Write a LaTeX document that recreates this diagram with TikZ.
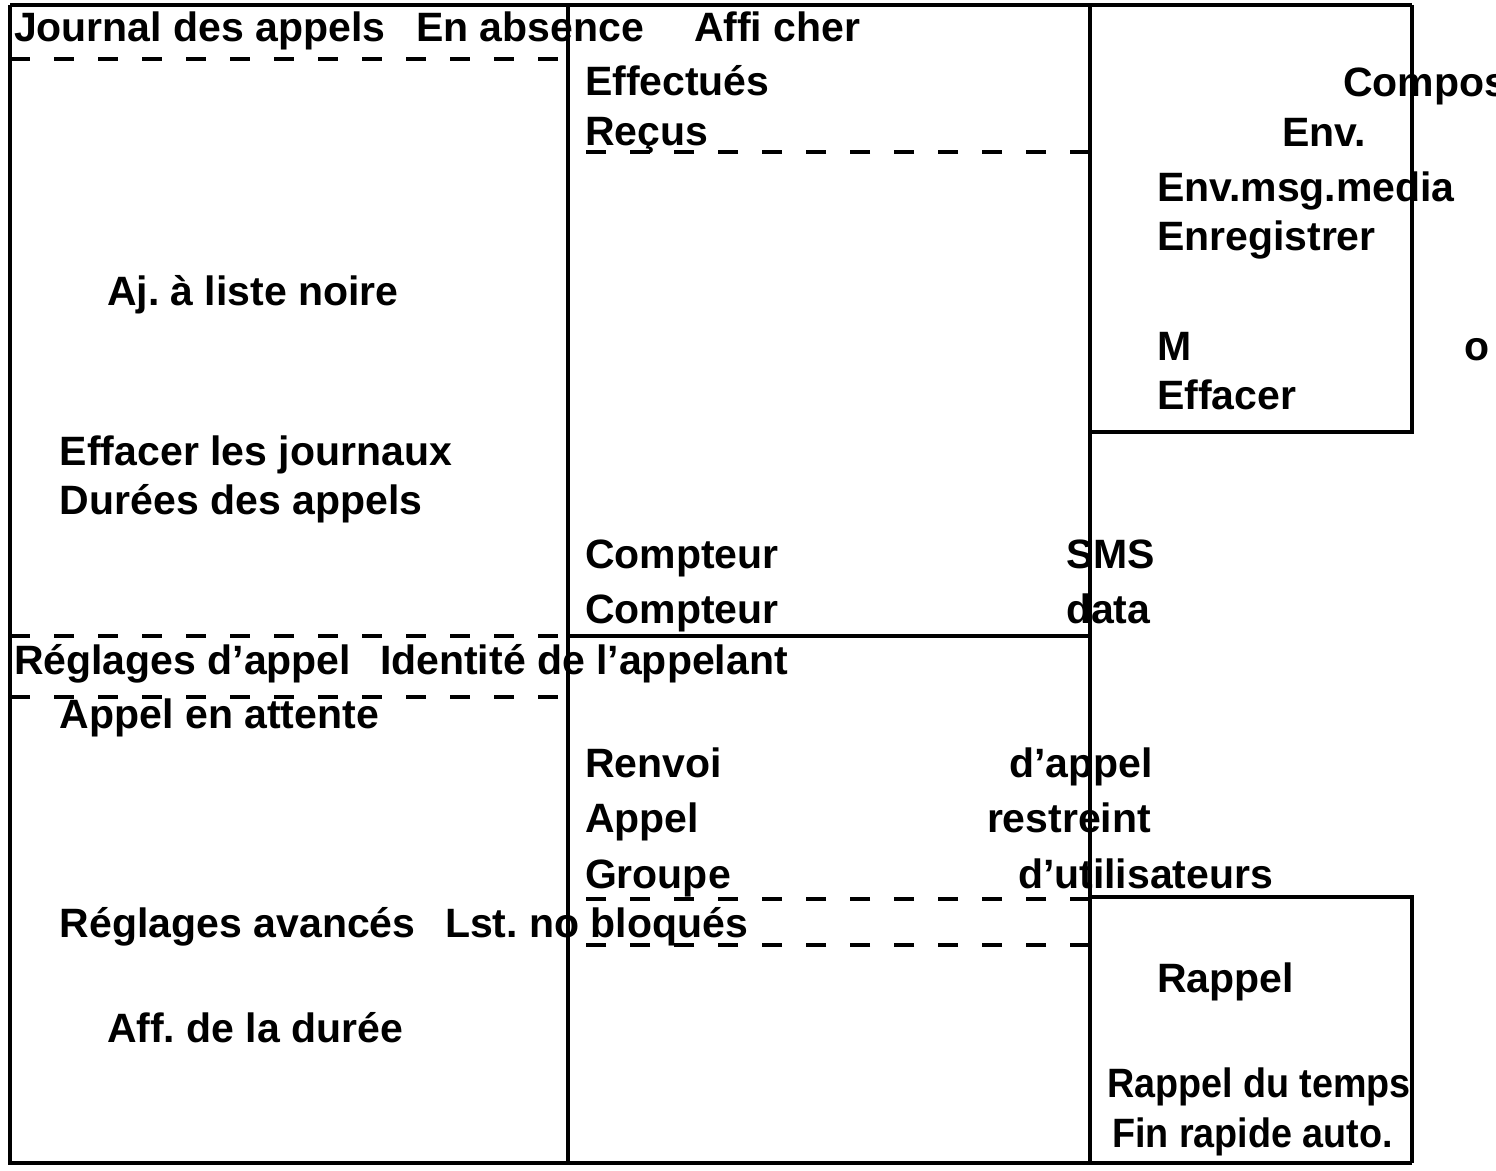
\documentclass[tikz,border=0pt]{standalone}
\usepackage{fontspec}
\usepackage{graphicx}
\setmainfont{Liberation Sans}
\frenchspacing
\tikzset{
  menu/.style={anchor=base west, inner sep=0pt, font=\fontsize{20.5pt}{24pt}\selectfont\bfseries},
  sep/.style={line width=2.2pt, dash pattern=on 10pt off 12pt},
}
\newcommand{\narrow}[1]{\scalebox{0.92}[1]{#1}}
\begin{document}
\begin{tikzpicture}[x=0.5pt, y=-0.5pt, line width=2pt]
\useasboundingbox (0,0) rectangle (1496,1171);

% frame and columns
\draw (10,5) -- (1412,5);
\draw (10,5) -- (10,1163) -- (1412,1163);
\draw (568,5) -- (568,1163);
\draw (1090,5) -- (1090,1163);
\draw (1412,5) -- (1412,432) -- (1090,432);
\draw (1090,897) -- (1412,897) -- (1412,1163);
\draw (568,636) -- (1090,636);

% dashed separators
\draw[sep] (10,59) -- (568,59);
\draw[sep] (1090,152) -- (568,152);
\draw[sep] (10,636) -- (568,636);
\draw[sep] (10,697) -- (568,697);
\draw[sep] (1090,899) -- (568,899);
\draw[sep] (1090,945) -- (568,945);

% journal des appels
\node[menu] (journal) at (12,42) {Journal des appels};
\node[menu] (absence) at (414,42) {En absence};
\node[menu] (afficher) at (692,42) {Affi cher};
\node[menu] (effectues) at (583,96) {Effectués};
\node[menu] (recus) at (583,146) {Reçus};
\node[menu] (listenoire) at (105,306) {Aj. à liste noire};
\node[menu] (effjournaux) at (58,466) {Effacer les journaux};
\node[menu] (durees) at (58,515) {Durées des appels};
\node[menu] (cptsms) at (583,569) {Compteur};
\node[menu] (sms) at (1064,569) {SMS};
\node[menu] (cptdata) at (583,624) {Compteur};
\node[menu] (data) at (1064,624) {data};

% sous-menu afficher
\node[menu] (compos) at (1341,97) {Compos};
\node[menu] (env) at (1280,147) {Env.};
\node[menu] (envmedia) at (1155,202) {Env.msg.media};
\node[menu] (enreg) at (1155,251) {Enregistrer};
\node[menu] (m) at (1155,361) {M};
\node[menu] (o) at (1462,361) {o};
\node[menu] (effacer) at (1155,410) {Effacer};

% reglages d'appel
\node[menu] (reglages) at (12,675) {Réglages d’appel};
\node[menu] (identite) at (378,675) {Identité de l’appelant};
\node[menu] (attente) at (58,729) {Appel en attente};
\node[menu] (renvoi) at (583,778) {Renvoi};
\node[menu] (renvoib) at (1007,778) {d’appel};
\node[menu] (appel) at (583,833) {Appel};
\node[menu] (restreint) at (985,833) {restreint};
\node[menu] (groupe) at (583,888) {Groupe};
\node[menu] (utilisateurs) at (1016,888) {d’utilisateurs};
\node[menu] (avances) at (58,937) {Réglages avancés};
\node[menu] (bloques) at (443,937) {Lst. no bloqués};
\node[menu] (duree) at (105,1042) {Aff. de la durée};

% sous-menu rappel
\node[menu] (rappel) at (1155,992) {Rappel};
\node[menu] (temps) at (1105,1097) {\narrow{Rappel du temps}};
\node[menu] (finrapide) at (1110,1147) {\narrow{Fin rapide auto.}};

\end{tikzpicture}
\end{document}
